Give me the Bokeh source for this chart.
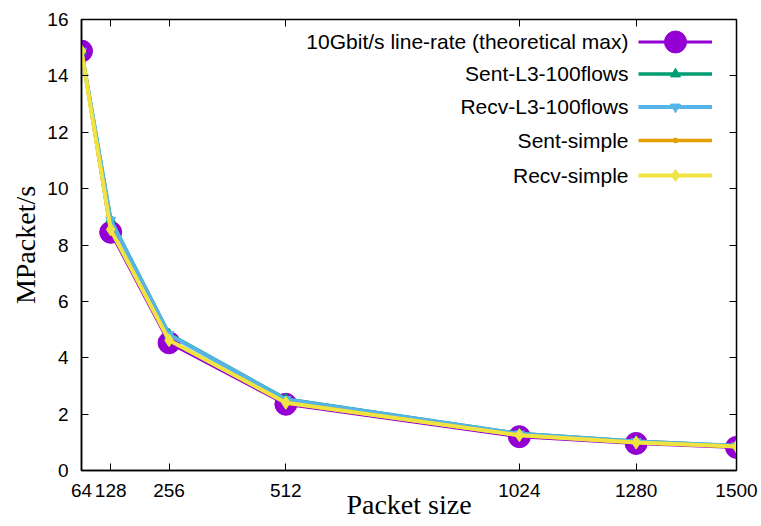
from bokeh.plotting import figure
from bokeh.models import LinearAxis, FixedTicker, Legend, LegendItem, Label, Range1d
from bokeh.core.properties import value
from bokeh.embed import file_html
from bokeh.resources import INLINE

packet_sizes = [64, 128, 256, 512, 1024, 1280, 1500]
line_rate = [14.88, 8.45, 4.53, 2.35, 1.20, 0.96, 0.82]
sent_l3 = [14.88, 8.90, 4.84, 2.54, 1.31, 1.04, 0.88]
recv_l3 = [14.88, 8.88, 4.82, 2.52, 1.30, 1.03, 0.88]
sent_simple = [14.88, 8.55, 4.62, 2.40, 1.25, 0.99, 0.85]
recv_simple = [14.88, 8.55, 4.62, 2.40, 1.25, 0.99, 0.85]
x_ticks = [64, 128, 256, 512, 1024, 1280, 1500]
y_ticks = [0, 2, 4, 6, 8, 10, 12, 14, 16]

series_names = ["10Gbit/s line-rate (theoretical max)", "Sent-L3-100flows",
                "Recv-L3-100flows", "Sent-simple", "Recv-simple"]
series_values = [line_rate, sent_l3, recv_l3, sent_simple, recv_simple]
colors = ["#9400d3", "#009e73", "#56b4e9", "#e69f00", "#f0e442"]
markers = ["circle", "triangle", "inverted_triangle", "circle", "diamond"]
marker_sizes = [22, 10, 10, 4, 13]
line_widths = [3, 3.5, 4, 3.5, 4]

p = figure(width=761, height=526,
           min_border_left=81, min_border_right=25, min_border_top=19, min_border_bottom=56,
           x_range=Range1d(64, 1500), y_range=Range1d(0, 16),
           output_backend="svg", toolbar_location=None)
p.xgrid.visible = False
p.ygrid.visible = False
p.outline_line_color = "black"
p.outline_line_width = 1.5
p.background_fill_color = "white"
p.border_fill_color = "white"

p.xaxis.ticker = FixedTicker(ticks=x_ticks)
p.yaxis.ticker = FixedTicker(ticks=y_ticks)
p.xaxis.axis_label = "Packet size"
p.yaxis.axis_label = "MPacket/s"
for ax in [p.xaxis[0], p.yaxis[0]]:
    ax.major_tick_in = 7
    ax.major_tick_out = 0
    ax.minor_tick_line_color = None
    ax.axis_line_color = "black"
    ax.axis_line_width = 1.5
    ax.major_tick_line_color = "black"
    ax.major_label_text_font = "Liberation Sans"
    ax.major_label_text_font_size = "19px"
    ax.major_label_text_color = "black"
    ax.axis_label_text_font = "Liberation Serif"
    ax.axis_label_text_font_size = "28px"
    ax.axis_label_text_font_style = "normal"
    ax.axis_label_text_color = "black"
p.xaxis.major_label_standoff = 13
p.xaxis.axis_label_standoff = -11
p.yaxis.major_label_standoff = 13
p.yaxis.axis_label_standoff = 3

top_axis = LinearAxis(ticker=FixedTicker(ticks=x_ticks), major_tick_in=7, major_tick_out=0,
                      minor_tick_line_color=None, major_label_text_font_size="1px",
                      major_label_text_color=None, major_label_standoff=0,
                      axis_line_color="black")
right_axis = LinearAxis(ticker=FixedTicker(ticks=y_ticks), major_tick_in=7, major_tick_out=0,
                        minor_tick_line_color=None, major_label_text_font_size="1px",
                        major_label_text_color=None, major_label_standoff=0,
                        axis_line_color="black")
p.add_layout(top_axis, "above")
p.add_layout(right_axis, "right")

# legend rows: centers measured from the frame bottom, in pixels
row_centers = [429, 397, 364, 330, 295]
legend_heights = [55, 25, 25, 12, 30]

for name, vals, c, m, ms, lw, rc, lh in zip(series_names, series_values, colors, markers,
                                             marker_sizes, line_widths, row_centers, legend_heights):
    rl = p.line(packet_sizes, vals, line_color=c, line_width=lw)
    rs = p.scatter(packet_sizes, vals, marker=m, size=ms, fill_color=c, line_color=c)
    leg = Legend(items=[LegendItem(label=value(" "), renderers=[rl, rs])],
                 location=(557, rc - lh / 2), glyph_width=74, glyph_height=lh,
                 padding=0, margin=0, spacing=0, label_standoff=0,
                 label_text_font_size="1px", label_text_color=None,
                 label_width=0, label_height=0,
                 background_fill_alpha=0, border_line_alpha=0)
    p.add_layout(leg)
    p.add_layout(Label(x=547, y=rc, x_units="screen", y_units="screen", text=name,
                       text_align="right", text_baseline="middle",
                       text_font="Liberation Sans", text_font_size="21px", text_color="black"))

open("out.html", "w").write(file_html(p, INLINE))
